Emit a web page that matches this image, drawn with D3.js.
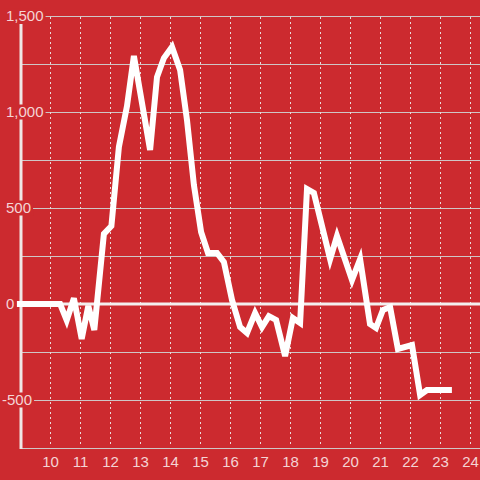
<!DOCTYPE html>
<html><head><meta charset="utf-8">
<script src="https://cdn.jsdelivr.net/npm/d3@7"></script>
<style>html,body{margin:0;padding:0;background:#cc2a2f;}svg{display:block;}</style>
</head><body>
<svg id="c" width="480" height="480"></svg>
<script>
// ---- data ----
const xValues = [8.88,10.32,10.54,10.78,11.04,11.26,11.46,11.78,12.03,12.28,12.55,12.78,13.32,13.55,13.78,14.05,14.32,14.55,14.78,15.02,15.25,15.55,15.78,16.05,16.32,16.55,16.82,17.05,17.28,17.52,17.82,18.08,18.32,18.55,18.78,19.32,19.55,20.05,20.32,20.65,20.85,21.08,21.32,21.58,22.05,22.32,22.55,23.38];
const yValues = [0,0,-85,30,-182,-10,-135,365,406,818,1031,1292,802,1182,1281,1339,1219,958,620,375,266,266,219,21,-120,-151,-47,-120,-63,-83,-271,-73,-99,599,578,234,354,125,234,-104,-125,-31,-16,-234,-214,-474,-448,-448];
const xTicks = [10,11,12,13,14,15,16,17,18,19,20,21,22,23,24];
const xTickLabels = ["10","11","12","13","14","15","16","17","18","19","20","21","22","23","24"];
const yGrid = [1500,1250,1000,750,500,250,0,-250,-500,-750];
const yTicks = [1500,1000,500,0,-500];
const yTickLabels = ["1,500","1,000","500","0","-500"];

// ---- chart ----
const svg = d3.select("#c");
const x = d3.scaleLinear().domain([9, 24]).range([20.5, 470.5]);
const y = d3.scaleLinear().domain([-750, 1500]).range([448, 16]);
const labelColor = "#f4d4d5";

// horizontal gridlines
svg.append("g").selectAll("line").data(yGrid).join("line")
  .attr("x1", x(9)).attr("x2", 480)
  .attr("y1", d => Math.round(y(d)) + 0.5).attr("y2", d => Math.round(y(d)) + 0.5)
  .attr("stroke", "#cfc6c6").attr("stroke-width", 1);

// vertical dashed gridlines
svg.append("g").selectAll("line").data(xTicks).join("line")
  .attr("x1", d => x(d)).attr("x2", d => x(d))
  .attr("y1", y(1500) + 1).attr("y2", y(-750) - 1)
  .attr("stroke", "#eadada").attr("stroke-width", 1).attr("stroke-dasharray", "2,3");

// zero line
svg.append("line")
  .attr("x1", x(9)).attr("x2", 480)
  .attr("y1", y(0)).attr("y2", y(0))
  .attr("stroke", "#f3eeee").attr("stroke-width", 3);

// y axis line
svg.append("line")
  .attr("x1", x(9) + 0.5).attr("x2", x(9) + 0.5)
  .attr("y1", y(1500) + 8).attr("y2", y(-750) + 1)
  .attr("stroke", "#efe6e6").attr("stroke-width", 3);

// y labels with background
const yl = svg.append("g").selectAll("g").data(yTicks).join("g");
yl.each(function(d, i) {
  const g = d3.select(this);
  const t = g.append("text")
    .attr("x", d < 0 ? 2 : 6).attr("y", y(d)).attr("dy", "0.36em")
    .attr("font-family", "Liberation Sans, Arial, sans-serif").attr("font-size", 15)
    .attr("fill", labelColor).text(yTickLabels[i]);
  const b = t.node().getBBox();
  g.insert("rect", "text")
    .attr("x", b.x - 2).attr("y", y(d) - 7.5).attr("width", b.width + 4).attr("height", 15)
    .attr("fill", "#cc2a2f");
});

// x labels
svg.append("g").selectAll("text").data(xTicks).join("text")
  .attr("x", d => x(d)).attr("y", 462).attr("dy", "0.36em")
  .attr("text-anchor", "middle")
  .attr("font-family", "Liberation Sans, Arial, sans-serif").attr("font-size", 15)
  .attr("fill", labelColor).text((d, i) => xTickLabels[i]);

// data line
const pts = xValues.map((v, i) => [v, yValues[i]]);
svg.append("path").datum(pts)
  .attr("d", d3.line().x(d => x(d[0])).y(d => y(d[1])))
  .attr("fill", "none").attr("stroke", "#ffffff").attr("stroke-width", 6)
  .attr("stroke-linejoin", "miter");
</script>
</body></html>
